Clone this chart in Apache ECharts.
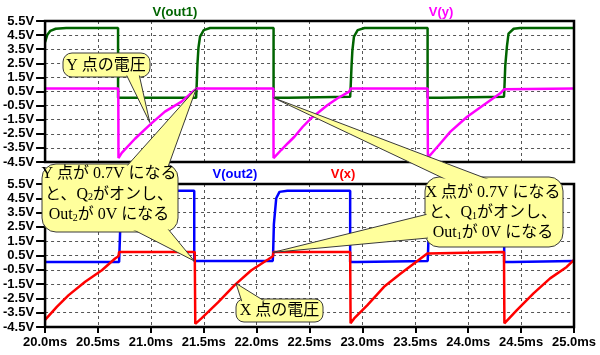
<!DOCTYPE html>
<html><head><meta charset="utf-8">
<script src="https://cdn.jsdelivr.net/npm/echarts@6/dist/echarts.min.js"></script>
<style>html,body{margin:0;padding:0;background:#fff}#c{width:600px;height:355px}</style>
</head><body><div id="c"></div>
<script>
// ---- data (time in ms, voltage in V) ----
const vOut1 = [
  [20.00,4.0],[20.02,4.5],[20.05,4.8],[20.10,4.95],[20.20,5.0],
  [20.69,5.0],[20.69,0.05],[21.428,0.05],[21.432,0.7],[21.44,2.4],[21.45,3.6],[21.465,4.4],[21.50,4.85],[21.56,5.0],
  [22.16,5.0],[22.16,0.05],[22.30,0.05],[22.30,0.12],[22.884,0.12],[22.888,0.7],[22.897,2.3],[22.905,3.4],[22.92,4.4],[22.955,4.85],[23.02,5.0],
  [23.616,5.0],[23.616,0.05],[23.74,0.05],[23.74,0.12],[24.338,0.12],[24.342,0.7],[24.35,2.3],[24.366,3.7],[24.381,4.6],[24.43,4.95],[24.49,5.0],
  [25.0,5.0]
];
const vY = [
  [20.0,0.72],[20.692,0.72],[20.694,-4.22],[20.725,-3.85],[20.85,-2.85],[21.0,-1.8],[21.133,-0.93],[21.29,-0.22],[21.415,0.61],[21.435,0.72],
  [22.158,0.72],[22.16,-4.22],[22.232,-3.65],[22.295,-3.17],[22.357,-2.71],[22.436,-2.0],[22.514,-1.4],[22.592,-0.93],[22.671,-0.46],[22.765,0.02],[22.875,0.49],[22.89,0.72],
  [23.616,0.72],[23.619,-4.2],[23.738,-3.17],[23.832,-2.35],[23.99,-1.29],[24.146,-0.46],[24.303,0.37],[24.341,0.66],[24.35,0.72],
  [25.0,0.72]
];
const vOut2 = [
  [20.0,0.05],[20.70,0.05],[20.703,0.7],[20.71,2.3],[20.72,3.6],[20.735,4.4],[20.77,4.85],[20.83,5.02],
  [21.41,5.02],[21.41,0.12],[22.152,0.12],[22.156,0.7],[22.163,2.7],[22.185,4.5],[22.216,4.95],[22.29,5.02],
  [22.884,5.02],[22.884,0.05],[22.95,0.05],[22.95,0.12],[23.617,0.12],[23.62,0.7],[23.628,2.5],[23.64,3.8],[23.66,4.6],[23.70,4.95],[23.76,5.02],
  [24.34,5.02],[24.34,0.05],[24.42,0.05],[24.42,0.12],[25.0,0.12]
];
const vX = [
  [20.0,-4.0],[20.113,-3.08],[20.223,-2.27],[20.379,-1.34],[20.537,-0.53],[20.662,0.29],[20.694,0.45],[20.70,0.75],
  [21.415,0.75],[21.42,-4.28],[21.435,-4.28],[21.478,-3.9],[21.635,-2.78],[21.792,-1.57],[21.95,-0.53],[22.107,0.22],[22.153,0.45],[22.16,0.75],
  [22.884,0.75],[22.888,-4.24],[22.922,-3.9],[23.047,-2.97],[23.204,-1.69],[23.362,-0.76],[23.519,0.12],[23.613,0.64],[23.62,0.75],
  [24.338,0.75],[24.342,-4.24],[24.46,-3.32],[24.617,-2.15],[24.774,-1.1],[24.931,-0.3],[25.0,0.2]
];
const paneTitles = [['V(out1)','V(y)'],['V(out2)','V(x)']];
const calloutTexts = {
  y: ['Y 点の電圧'],
  q2: ['Y 点が 0.7V になる','と、Q{s|2}がオンし、','Out{s|2}が 0V になる'],
  q1: ['X 点が 0.7V になる','と、Q{s|1}がオンし、','Out{s|1}が 0V になる'],
  x: ['X 点の電圧']
};

// ---- chart ----
const labelFont = {color:'#000', fontWeight:'bold', fontSize:13, fontFamily:'"Liberation Sans", Arial, sans-serif'};
const split = {show:true, lineStyle:{color:'#555', type:[3,3], width:1}};
function yAx(gi){
  return {type:'value', gridIndex:gi, min:-4.5, max:5.5, interval:1,
    axisLine:{show:false, onZero:false},
    axisTick:{show:true, length:9, lineStyle:{color:'#000', width:2}},
    axisLabel:Object.assign({margin:11, formatter:v=>v.toFixed(1)+'V'}, labelFont),
    splitLine:split};
}
function xAx(gi, showLabels){
  return {type:'value', gridIndex:gi, min:20, max:25, interval:0.5, position:'bottom',
    axisLine:{show:false, onZero:false},
    axisTick:{show:showLabels, length:6, lineStyle:{color:'#000', width:2}},
    axisLabel:Object.assign({show:showLabels, margin:9, formatter:v=>v.toFixed(1)+'ms'}, labelFont),
    splitLine:split};
}
const LW = 2.5;
const chart = echarts.init(document.getElementById('c'));
chart.setOption({
  animation:false,
  backgroundColor:'#fff',
  grid:[{left:43, top:21, width:531, height:141},{left:43, top:184, width:531, height:143}],
  xAxis:[xAx(0,false), xAx(1,true)],
  yAxis:[yAx(0), yAx(1)],
  series:[
    {name:'V(out1)', type:'line', xAxisIndex:0, yAxisIndex:0, data:vOut1, showSymbol:false, lineStyle:{color:'#006400', width:LW}, itemStyle:{color:'#006400'}},
    {name:'V(y)', type:'line', xAxisIndex:0, yAxisIndex:0, data:vY, showSymbol:false, lineStyle:{color:'#ff00ff', width:LW}, itemStyle:{color:'#ff00ff'}},
    {name:'V(out2)', type:'line', xAxisIndex:1, yAxisIndex:1, data:vOut2, showSymbol:false, lineStyle:{color:'#0000ff', width:LW}, itemStyle:{color:'#0000ff'}},
    {name:'V(x)', type:'line', xAxisIndex:1, yAxisIndex:1, data:vX, showSymbol:false, lineStyle:{color:'#ff0000', width:LW}, itemStyle:{color:'#ff0000'}}
  ]
});

const P = (gi, pt) => chart.convertToPixel({gridIndex:gi}, pt);
const els = [];
let zc = 100;
// frames
[0,1].forEach(gi=>{
  const a = P(gi,[20,5.5]), b = P(gi,[25,-4.5]);
  els.push({type:'rect', z:50, shape:{x:a[0], y:a[1], width:b[0]-a[0], height:b[1]-a[1]}, style:{fill:null, stroke:'#000', lineWidth:2.5}});
});
// pane titles
const titleColors = [['#006400','#ff00ff'],['#0000ff','#ff0000']];
const titlePos = [[[175,12],[441,12]],[[235,174],[343,174]]];
[0,1].forEach(p=>[0,1].forEach(i=>{
  els.push({type:'text', z:60, x:titlePos[p][i][0], y:titlePos[p][i][1],
    style:{text:paneTitles[p][i], fill:titleColors[p][i], font:'bold 13px "Liberation Sans", Arial, sans-serif', align:'center', verticalAlign:'middle', textAlign:'center', textVerticalAlign:'middle'}});
}));
// callouts
const FILL = '#ffff9c', STROKE = '#3a3a3a';
const serif = '"Liberation Serif", "Noto Sans CJK JP", serif';
function callout(box, pointers, lines, cx, ys){
  els.push({type:'rect', z:zc++, shape:{x:box[0], y:box[1], width:box[2], height:box[3], r:box[4]}, style:{fill:FILL, stroke:STROKE, lineWidth:1}});
  pointers.forEach(p=>{
    els.push({type:'polygon', z:zc++, shape:{points:[p[0],p[1],p[2]]}, style:{fill:FILL, stroke:STROKE, lineWidth:1, lineJoin:'miter'}});
  });
  els.push({type:'rect', z:zc++, shape:{x:box[0]+1.5, y:box[1]+1.5, width:box[2]-3, height:box[3]-3, r:Math.max(box[4]-1,0)}, style:{fill:FILL, stroke:null}});
  lines.forEach((t,i)=>{
    els.push({type:'text', z:zc++, x:cx, y:ys[i], style:{text:t, fill:'#000', font:'16px '+serif,
      align:'center', verticalAlign:'middle', textAlign:'center', textVerticalAlign:'middle',
      rich:{s:{font:'10px '+serif, fill:'#000', verticalAlign:'bottom'}}}});
  });
}
callout([63,53,87,24,9], [[[126,74],[139,74],P(0,[20.99,-1.7])]], calloutTexts.y, 106, [65.5]);
callout([42,164,136,68,14], [
  [[126,167],[168,167],P(0,[21.43,0.72])],
  [[132,229],[168,229],P(1,[21.41,0.12])]
], calloutTexts.q2, 109, [174,194.5,215]);
callout([425,177,138,70,14], [
  [[447,180],[490,180],P(0,[22.16,0.05])],
  [[428,214],[428,238],P(1,[22.155,0.72])]
], calloutTexts.q1, 493, [193,213,233]);
callout([236,299,87,23,8], [[[242,302],[266,302],P(1,[21.805,-1.45])]], calloutTexts.x, 279.5, [310.5]);

chart.setOption({graphic:{elements:els}});
</script>
</body></html>
